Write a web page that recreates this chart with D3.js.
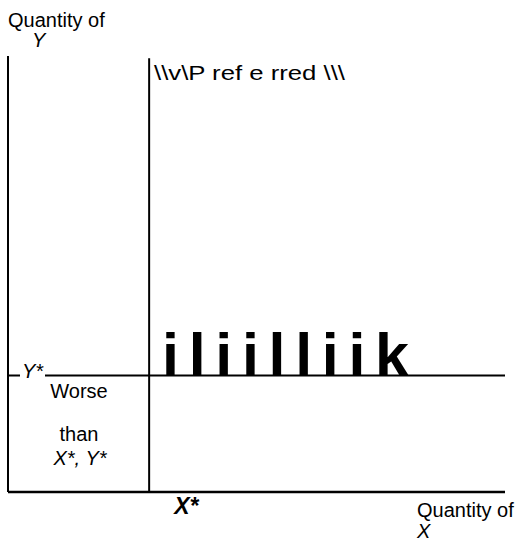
<!DOCTYPE html>
<html>
<head>
<meta charset="utf-8">
<script src="https://cdn.jsdelivr.net/npm/d3@7"></script>
<style>
  body { margin: 0; background: #fff; }
  svg text { font-family: "Liberation Sans", Arial, sans-serif; fill: #000; }
</style>
</head>
<body>
<div id="chart"></div>
<script>
// indifference-style diagram: axes, reference point X*, Y*
var xDomain = [0, 100];
var yDomain = [0, 100];
var xStar = [28.4];
var yStar = [26.7];
var regionLabels = ["Worse", "than"];
var preferredLabel = ["\\\\v\\P ref e rred \\\\\\"];
var bigLabel = ["iliilliik"];

var width = 521, height = 542;

var svg = d3.select("#chart")
    .append("svg")
    .attr("width", width)
    .attr("height", height);

var x = d3.scaleLinear().domain(xDomain).range([8, 505]);
var y = d3.scaleLinear().domain(yDomain).range([492, 56]);

// axes as plain lines
svg.append("line")
    .attr("x1", x(0)).attr("x2", x(0))
    .attr("y1", y(100)).attr("y2", y(0))
    .attr("stroke", "#000").attr("stroke-width", 2);
svg.append("line")
    .attr("x1", x(0)).attr("x2", x(100))
    .attr("y1", y(0)).attr("y2", y(0))
    .attr("stroke", "#000").attr("stroke-width", 2.5);

// X* vertical
svg.selectAll(".xstar")
    .data(xStar)
    .enter()
    .append("line")
      .attr("x1", function(d) { return x(d); })
      .attr("x2", function(d) { return x(d); })
      .attr("y1", y(99.5)).attr("y2", y(0))
      .attr("stroke", "#000").attr("stroke-width", 2);

// Y* horizontal
svg.selectAll(".ystar")
    .data(yStar)
    .enter()
    .append("line")
      .attr("x1", x(0)).attr("x2", x(100))
      .attr("y1", function(d) { return y(d); })
      .attr("y2", function(d) { return y(d); })
      .attr("stroke", "#000").attr("stroke-width", 2);

// gap for Y* label
svg.append("rect")
    .attr("x", 20).attr("y", y(yStar[0]) - 4)
    .attr("width", 25).attr("height", 8)
    .attr("fill", "#fff");
svg.append("text")
    .attr("x", 22).attr("y", y(yStar[0]) + 2)
    .attr("font-size", "20px").attr("font-style", "italic")
    .text("Y*");

// axis titles
svg.append("text").attr("x", 8).attr("y", 27).attr("font-size", "20px").text("Quantity of");
svg.append("text").attr("x", 32).attr("y", 47).attr("font-size", "20px").attr("font-style", "italic").text("Y");
svg.append("text").attr("x", 417).attr("y", 517).attr("font-size", "20px").text("Quantity of");
svg.append("text").attr("x", 417).attr("y", 538).attr("font-size", "20px").attr("font-style", "italic").text("X");

svg.append("text")
    .attr("x", x(xStar[0]) + 25).attr("y", 514)
    .attr("font-family", "'Liberation Serif', 'Times New Roman', serif")
    .attr("font-size", "23px").attr("font-weight", "bold").attr("font-style", "italic")
    .text("X*");

// lower-left region label
svg.selectAll(".region")
    .data(regionLabels)
    .enter()
    .append("text")
      .attr("x", 79)
      .attr("y", function(d, i) { return 398 + i * 43; })
      .attr("text-anchor", "middle")
      .attr("font-size", "20px")
      .text(function(d) { return d; });
svg.append("text")
    .attr("x", 80).attr("y", 465)
    .attr("text-anchor", "middle")
    .attr("font-size", "20px").attr("font-style", "italic")
    .text("X*, Y*");

// scanned labels in upper-right region
svg.append("text")
    .attr("x", 154).attr("y", 80)
    .attr("font-size", "20px")
    .attr("textLength", 191).attr("lengthAdjust", "spacingAndGlyphs")
    .text(preferredLabel[0]);

svg.selectAll(".big")
    .data(bigLabel)
    .enter()
    .append("text")
      .attr("x", 162).attr("y", y(yStar[0]))
      .attr("font-size", "61px").attr("font-weight", "bold")
      .attr("textLength", 247).attr("lengthAdjust", "spacing")
      .text(function(d) { return d; });
</script>
</body>
</html>
